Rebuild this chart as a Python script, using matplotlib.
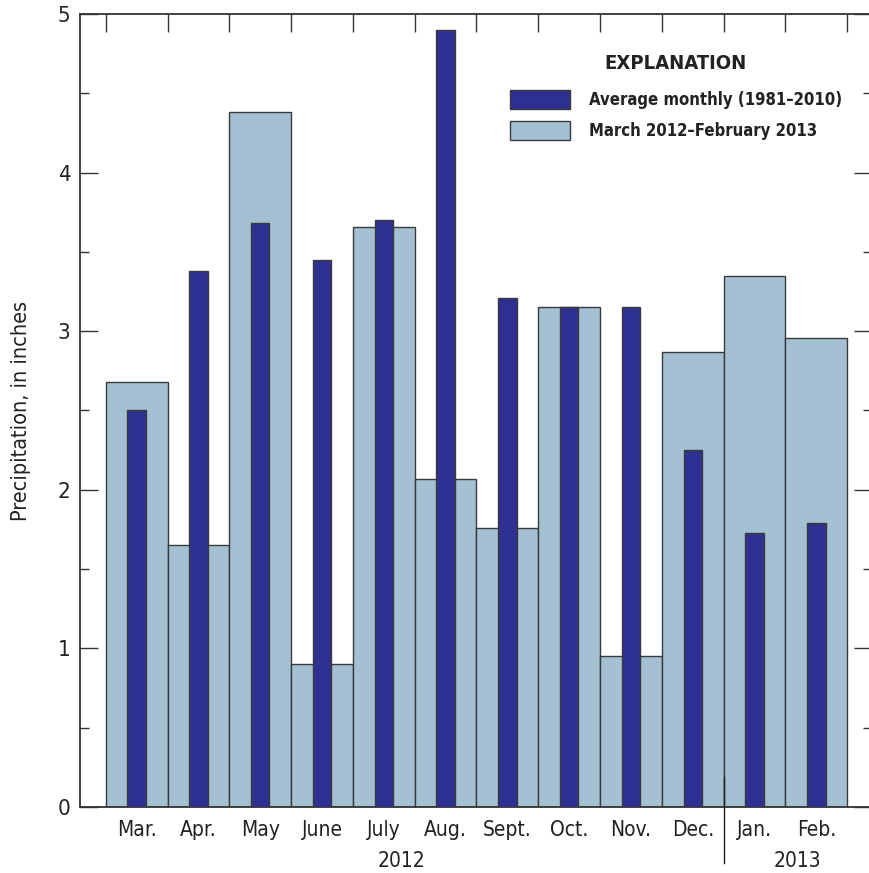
import matplotlib

matplotlib.use("Agg")
import matplotlib.pyplot as plt
import numpy as np
from matplotlib import font_manager
from matplotlib.ticker import MultipleLocator
import matplotlib.transforms as mtransforms

# Monthly precipitation, in inches
MONTHS = ["Mar.", "Apr.", "May", "June", "July", "Aug.", "Sept.", "Oct.",
          "Nov.", "Dec.", "Jan.", "Feb."]
YEAR_2012 = 10  # first ten months fall in 2012
OBSERVED = [2.68, 1.65, 4.38, 0.90, 3.66, 2.07, 1.76, 3.15, 0.95, 2.87, 3.35, 2.96]
NORMAL = [2.50, 3.38, 3.68, 3.45, 3.70, 4.90, 3.21, 3.15, 3.15, 2.25, 1.73, 1.79]

LIGHT = "#a3c1d2"
DARK = "#2e3192"
EDGE = "#3a3a3a"
INK = "#222222"

# prefer a narrow face; fall back to condensed DejaVu, then Liberation Sans
fonts = font_manager.fontManager.ttflist
names = {f.name for f in fonts}
condensed = any(f.name == "DejaVu Sans" and "condensed" in str(f.stretch)
                for f in fonts)
if "Liberation Sans Narrow" in names:
    plt.rcParams["font.family"] = ["Liberation Sans Narrow", "DejaVu Sans"]
elif condensed:
    plt.rcParams["font.family"] = ["DejaVu Sans"]
    plt.rcParams["font.stretch"] = "condensed"
else:
    plt.rcParams["font.family"] = ["Liberation Sans", "DejaVu Sans"]

fig = plt.figure(figsize=(8.70, 8.73), dpi=100)
ax = fig.add_axes([80 / 870, 66 / 873, 792 / 870, 793 / 873])

x = np.arange(len(MONTHS))
ax.bar(x, OBSERVED, width=1.0, color=LIGHT, edgecolor=EDGE, linewidth=1.0,
       label="March 2012\u2013February 2013", zorder=2)
ax.bar(x, NORMAL, width=0.3, color=DARK, edgecolor=EDGE, linewidth=1.0,
       label="Average monthly (1981\u20132010)", zorder=3)

xmin, xmax = -0.916, 11.9
ax.set_xlim(xmin, xmax)
ax.set_ylim(0, 5)

# y axis: ticks inside on both sides
ax.yaxis.set_major_locator(MultipleLocator(1))
ax.yaxis.set_minor_locator(MultipleLocator(0.5))
ax.tick_params(axis="y", which="both", direction="in", left=True, right=True,
               width=1.0, color="#333333", labelsize=16, pad=7,
               labelcolor=INK)
ax.tick_params(axis="y", which="major", length=13)
ax.tick_params(axis="y", which="minor", length=6.5)

# x axis: month boundaries marked on top, month names under the bars
ax.set_xticks(np.arange(len(MONTHS) + 1) - 0.5)
ax.set_xticklabels([])
ax.set_xticks(x, minor=True)
ax.set_xticklabels(MONTHS, minor=True)
ax.tick_params(axis="x", which="major", direction="in", top=True, bottom=False,
               length=13, width=1.0, color="#333333")
ax.tick_params(axis="x", which="minor", length=0, labelsize=15, pad=9,
               labelcolor=INK)

for side in ["left", "top", "bottom", "right"]:
    ax.spines[side].set_linewidth(1.3)
    ax.spines[side].set_color("#333333")

ax.set_ylabel("Precipitation, in inches", fontsize=15.5, labelpad=19,
              color=INK)

# year labels and the divider between December and January
trans = mtransforms.blended_transform_factory(ax.transData, ax.transAxes)
split = YEAR_2012 - 0.5
ax.plot([split, split], [0.038, -0.071], transform=trans, color=INK,
        linewidth=1.0, clip_on=False, zorder=5)
ax.text((xmin + split) / 2, -0.068, "2012", transform=trans, ha="center",
        va="center", fontsize=15, color=INK)
ax.text((split + xmax) / 2, -0.068, "2013", transform=trans, ha="center",
        va="center", fontsize=15, color=INK)

handles, labels = ax.get_legend_handles_labels()
leg = ax.legend(handles[::-1], labels[::-1], loc="upper right",
                bbox_to_anchor=(0.962, 0.949), frameon=False,
                borderaxespad=0, borderpad=0,
                title="EXPLANATION",
                title_fontproperties={"weight": "bold", "size": 14.5},
                prop={"weight": "bold", "size": 12},
                handlelength=3.6, handleheight=1.4, handletextpad=1.15,
                labelspacing=0.7)
leg._legend_box.sep = 12
for t in leg.get_texts():
    t.set_color(INK)
leg.get_title().set_color(INK)
for p in leg.get_patches():
    p.set_linewidth(1.0)

fig.savefig("out.png", dpi=100)
